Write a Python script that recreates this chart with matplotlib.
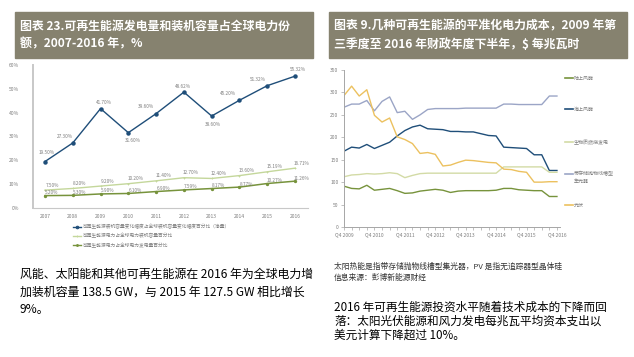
import matplotlib
matplotlib.use("Agg")
import matplotlib.pyplot as plt
from matplotlib.patches import Rectangle
from matplotlib.lines import Line2D

plt.rcParams['font.family'] = ['Noto Sans CJK SC', 'DejaVu Sans']

W, H = 634, 357

# ---------------- data: left chart ----------------
years = [2007, 2008, 2009, 2010, 2011, 2012, 2013, 2014, 2015, 2016]
cap_change_share = [19.50, 27.30, 41.70, 31.60, 39.60, 48.62, 38.60, 45.20, 51.32, 55.32]
cap_share = [7.50, 8.20, 9.20, 10.20, 11.40, 12.70, 12.40, 13.60, 15.19, 16.71]
gen_share = [5.20, 5.30, 5.90, 6.10, 6.90, 7.59, 8.17, 8.77, 10.27, 11.26]
left_labels = ["可再生能源装机容量变化幅度占全球装机容量变化幅度百分比（净量）",
               "可再生能源电力占全球电力装机容量百分比",
               "可再生能源电力占全球电力发电量百分比"]

# ---------------- data: right chart ----------------
quarters = list(range(29))
xtick_labels = ["Q4 2009", "Q4 2010", "Q4 2011", "Q4 2012", "Q4 2013", "Q4 2014", "Q4 2015", "Q4 2016"]
onshore_wind = [91, 86, 85, 93, 82, 84, 86, 81, 75, 76, 80, 82, 84, 82, 77, 80, 81, 81, 81, 81,
                82, 86, 86, 83, 82, 81, 81, 68, 68]
offshore_wind = [169, 178, 176, 184, 175, 182, 189, 203, 215, 223, 227, 219, 218, 217, 213, 213, 212, 212,
                 208, 204, 203, 178, 177, 176, 175, 161, 161, 126, 126]
biomass = [112, 116, 117, 119, 118, 119, 121, 119, 110, 115, 119, 120, 120, 120, 120, 120, 120, 120,
           120, 120, 120, 134, 134, 134, 134, 134, 134, 122, 122]
csp_storage = [267, 274, 274, 282, 259, 280, 290, 255, 258, 240, 250, 262, 264, 264, 264, 264, 265, 265,
               265, 265, 265, 274, 274, 273, 273, 273, 273, 292, 292]
pv = [293, 314, 292, 306, 249, 234, 243, 201, 195, 186, 164, 166, 162, 136, 138, 144, 149, 148,
      146, 144, 143, 129, 128, 124, 122, 100, 100, 101, 101]
right_labels = ["陆上风能", "海上风能", "生物质燃烧发电", "带存储抛物线槽型\n集光器", "光伏"]

# ---------------- figure ----------------
fig = plt.figure(figsize=(W / 100, H / 100), dpi=100)
fig.patch.set_facecolor('white')


def fx(x):
    return x / W


def fy(y):
    return 1 - y / H


def rect(x0, y0, x1, y1, color):
    fig.patches.append(Rectangle((fx(x0), fy(y1)), (x1 - x0) / W, (y1 - y0) / H,
                                 transform=fig.transFigure, color=color, zorder=0))


def ftext(x, y, s, **kw):
    fig.text(fx(x), fy(y), s, **kw)


# header bars
HEAD = '#86826f'
rect(15, 12, 313, 58, HEAD)
rect(329, 12, 627, 58, HEAD)
hkw = dict(color='white', fontsize=8.6, fontweight='bold', va='center', ha='left')
ftext(20, 26, "图表 23.可再生能源发电量和装机容量占全球电力份", **hkw)
ftext(20, 44, "额，2007-2016 年，%", **hkw)
ftext(334, 26, "图表 9.几种可再生能源的平准化电力成本，2009 年第", **hkw)
ftext(334, 44, "三季度至 2016 年财政年度下半年，$ 每兆瓦时", **hkw)

# ---------------- left chart ----------------
GRAY = '#7f7f7f'
ax1 = fig.add_axes([fx(33), fy(208), (308 - 33) / W, (208 - 65) / H])
ax1.set_xlim(2006.568, 2016.468)
ax1.set_ylim(0, 60)
c1, c2, c3 = '#1f4e79', '#c4d79b', '#77933c'
ax1.plot(years, cap_change_share, color=c1, lw=1.0, marker='o', ms=2.2, zorder=3)
ax1.plot(years, cap_share, color=c2, lw=1.0, marker='+', ms=2.0, mew=0.6, zorder=2)
ax1.plot(years, gen_share, color=c3, lw=1.1, marker='o', ms=1.4, zorder=2)

for sp in ['top', 'right']:
    ax1.spines[sp].set_visible(False)
ax1.spines['left'].set_color('#c8c8c8')
ax1.spines['left'].set_linewidth(1.4)
ax1.spines['bottom'].set_color('#c8c8c8')
ax1.spines['bottom'].set_linewidth(0.8)
ax1.set_yticks(range(0, 61, 10))
ax1.set_yticklabels([f"{v}%" for v in range(0, 61, 10)])
ax1.set_xticks(years)
ax1.set_xticklabels([str(y) for y in years])
ax1.tick_params(axis='both', labelsize=3.6, colors=GRAY, length=0, pad=4)
ax1.tick_params(axis='y', pad=10)

offs1 = [(2, 9), (-8, 6), (3, 6), (5, -8), (-10, 7), (-1, 6), (1, -8), (-12, 7), (-9, 6), (3, 7)]
for x, v, (dx, dy) in zip(years, cap_change_share, offs1):
    ax1.annotate(f"{v:.2f}%", (x, v), xytext=(dx, dy), textcoords='offset pixels',
                 fontsize=3.4, color=GRAY, ha='center', va='center')
for x, v in zip(years, cap_share):
    ax1.annotate(f"{v:.2f}%", (x, v), xytext=(7, 5), textcoords='offset pixels',
                 fontsize=3.4, color=GRAY, ha='center', va='center')
for x, v in zip(years, gen_share):
    ax1.annotate(f"{v:.2f}%", (x, v), xytext=(7, 3), textcoords='offset pixels',
                 fontsize=3.4, color=GRAY, ha='center', va='center')

# left legend
leg_items = [(c1, 'o', 2.0), (c2, '+', 2.0), (c3, 'o', 1.4)]
for i, ((col, mk, ms), lab) in enumerate(zip(leg_items, left_labels)):
    y = 227 + 9 * i
    fig.add_artist(Line2D([fx(73), fx(81)], [fy(y), fy(y)], color=col, lw=1.0,
                          transform=fig.transFigure))
    fig.add_artist(Line2D([fx(77)], [fy(y)], color=col, marker=mk, ms=ms, mew=0.6,
                          transform=fig.transFigure))
    ftext(83, y, lab, fontsize=3.4, color=GRAY, va='center', ha='left')

# left body text
body_kw = dict(fontsize=8.6, color='black', va='center', ha='left')
ftext(20, 274, "风能、太阳能和其他可再生能源在 2016 年为全球电力增", **body_kw)
ftext(20, 292, "加装机容量 138.5 GW，与 2015 年 127.5 GW 相比增长", **body_kw)
ftext(20, 309, "9%。", **body_kw)

# ---------------- right chart ----------------
ax2 = fig.add_axes([fx(344), fy(227), (560 - 344) / W, (227 - 70) / H])
ax2.set_xlim(0, 28.4)
ax2.set_ylim(0, 350)
cols = ['#77933c', '#1f4e79', '#d3dba6', '#9ba5c6', '#ecc15f']
series = [onshore_wind, offshore_wind, biomass, csp_storage, pv]
order = [2, 3, 4, 1, 0]
for k in order:
    ax2.plot(quarters, series[k], color=cols[k], lw=1.0, zorder=2 + k * 0.1)

for sp in ['top', 'right']:
    ax2.spines[sp].set_visible(False)
ax2.spines['left'].set_color('#a6a6a6')
ax2.spines['left'].set_linewidth(0.7)
ax2.spines['bottom'].set_color('#a6a6a6')
ax2.spines['bottom'].set_linewidth(0.7)
ax2.set_yticks(range(0, 351, 50))
ax2.set_xticks(list(range(0, 29, 4)))
ax2.set_xticklabels(xtick_labels)
ax2.set_xticks(quarters, minor=True)
ax2.tick_params(axis='both', which='both', labelsize=3.6, colors='#a6a6a6', labelcolor=GRAY,
                length=2, width=0.5, pad=2)

# right legend
leg_y = [78, 109, 142, 174, 205]
for col, lab, y in zip(cols, right_labels, leg_y):
    fig.add_artist(Line2D([fx(565), fx(573)], [fy(y), fy(y)], color=col, lw=1.2,
                          transform=fig.transFigure))
    ftext(574, y - (2.5 if '\n' in lab else 0), lab, fontsize=3.6, color=GRAY,
          va='top' if '\n' in lab else 'center', ha='left', linespacing=1.5)

# right notes
note_kw = dict(fontsize=5.6, color='#333333', va='center', ha='left')
ftext(334, 267, "太阳热能是指带存储抛物线槽型集光器，PV 是指无追踪器型晶体硅", **note_kw)
ftext(334, 278, "信息来源：彭博新能源财经", **note_kw)

body2 = dict(fontsize=8.4, color='black', va='center', ha='left')
ftext(334, 307, "2016 年可再生能源投资水平随着技术成本的下降而回", **body2)
ftext(334, 321, "落：太阳光伏能源和风力发电每兆瓦平均资本支出以", **body2)
ftext(334, 335, "美元计算下降超过 10%。", **body2)

fig.savefig('out.png', dpi=100)
